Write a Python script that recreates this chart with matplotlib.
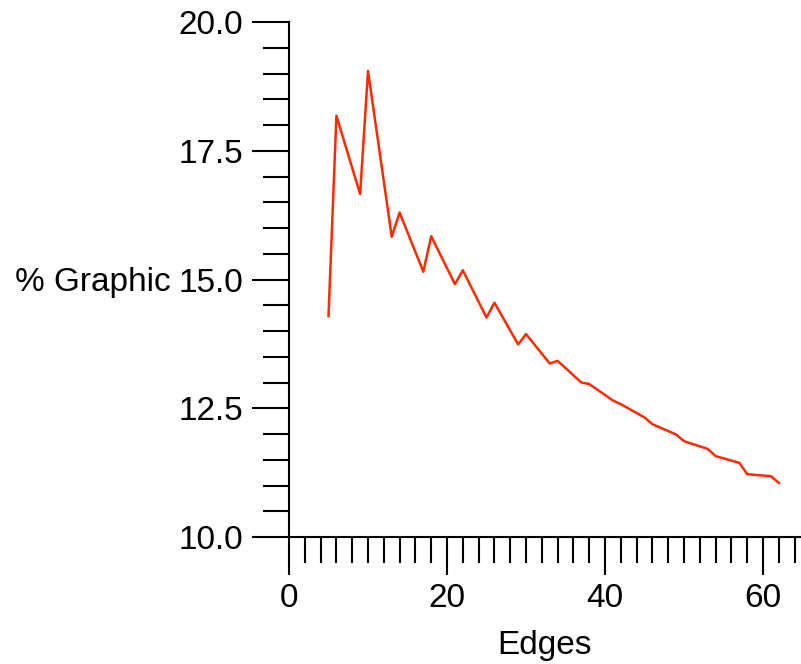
import numpy as np
import matplotlib
matplotlib.use("Agg")
from matplotlib import pyplot as plt
from matplotlib import ticker

plt.rcParams['font.family'] = ['Liberation Sans', 'DejaVu Sans']

# 数据：边数 与 图形百分比
edges = [5, 6, 9, 10, 13, 14, 17, 18, 21, 22, 25, 26, 29, 30,
         33, 34, 37, 38, 41, 42, 45, 46, 49, 50, 53, 54, 57, 58, 61, 62]
pct_graphic = [14.29, 18.18, 16.66, 19.05, 15.83, 16.30, 15.15, 15.84,
               14.91, 15.18, 14.26, 14.55, 13.74, 13.94, 13.37, 13.42,
               13.00, 12.97, 12.65, 12.58, 12.32, 12.19, 11.99, 11.86,
               11.71, 11.57, 11.44, 11.22, 11.18, 11.05]

fig = plt.figure(figsize=(8.01, 6.64), dpi=100)
ax = fig.add_axes([289/801, 1-537/664, (801-289)/801, (537-22)/664])

ax.plot(edges, pct_graphic, color='#ff2a00', linewidth=1.8, clip_on=False)

ax.set_xlim(0, 64.8)
ax.set_ylim(10, 20)

ax.spines['top'].set_visible(False)
ax.spines['right'].set_visible(False)
ax.spines['left'].set_linewidth(1.5)
ax.spines['bottom'].set_linewidth(1.5)

ax.xaxis.set_major_locator(ticker.MultipleLocator(20))
ax.xaxis.set_minor_locator(ticker.MultipleLocator(2))
ax.yaxis.set_major_locator(ticker.MultipleLocator(2.5))
ax.yaxis.set_minor_locator(ticker.MultipleLocator(0.5))
ax.yaxis.set_major_formatter(ticker.FormatStrFormatter('%.1f'))

ax.tick_params(axis='both', which='major', direction='out', length=27, width=1.5,
               labelsize=24, pad=6)
ax.tick_params(axis='both', which='minor', direction='out', length=19, width=1.5)

ax.set_ylabel('% Graphic', fontsize=24, rotation=0, ha='right', va='center')
ax.yaxis.set_label_coords(-0.232, 0.495)
ax.set_xlabel('Edges', fontsize=24, va='center')
ax.xaxis.set_label_coords(0.5, -0.21)

fig.savefig('out.png', dpi=100)
